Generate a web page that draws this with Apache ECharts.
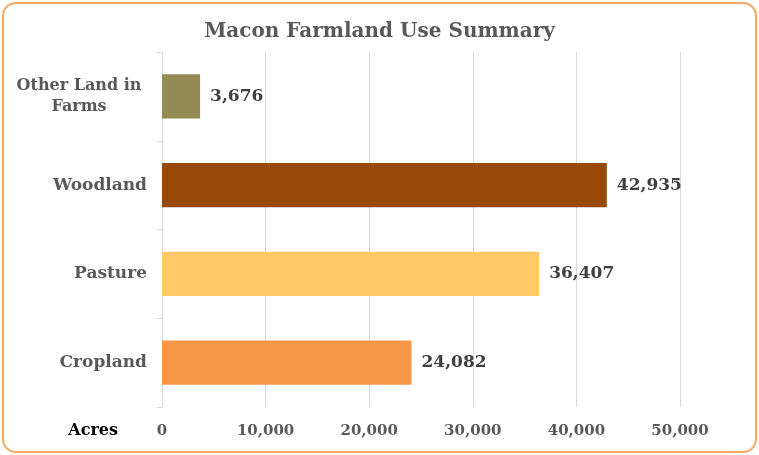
<!DOCTYPE html>
<html>
<head>
<meta charset="utf-8">
<script src="https://cdn.jsdelivr.net/npm/echarts@6/dist/echarts.min.js"></script>
<style>
  html, body { margin: 0; padding: 0; background: #fff; }
  #wrap { position: absolute; left: 2px; top: 2px; width: 751px; height: 447px; border: 2px solid #f9a866; border-radius: 14px; }
  #chart { position: absolute; left: 0; top: 0; width: 759px; height: 455px; }
</style>
</head>
<body>
<div id="wrap"></div>
<div id="chart"></div>
<script>
  const categories = ['Cropland', 'Pasture', 'Woodland', 'Other Land in\nFarms']
  const acres = [24082, 36407, 42935, 3676]
  const barColors = ['#f79646', '#ffc966', '#984807', '#948a54']
  const tickValues = [0, 10000, 20000, 30000, 40000, 50000]

  const serif = '"DejaVu Serif", "Liberation Serif", serif'
  const fmt = v => v.toLocaleString('en-US')

  let chart = echarts.init(document.getElementById('chart'))

  const option = {
    title: {
      text: 'Macon Farmland Use Summary',
      left: 'center',
      top: 17,
      textStyle: {
        fontFamily: serif,
        fontWeight: 'bold',
        fontSize: 20,
        color: '#595959'
      }
    },
    grid: {
      left: 162,
      right: 79,
      top: 52,
      bottom: 48
    },
    xAxis: {
      type: 'value',
      min: tickValues[0],
      max: tickValues[tickValues.length - 1],
      interval: 10000,
      name: 'Acres',
      nameLocation: 'start',
      nameGap: 44,
      nameTextStyle: {
        fontFamily: serif,
        fontWeight: 'bold',
        fontSize: 16,
        color: '#000',
        verticalAlign: 'top',
        padding: [16, 0, 0, 0]
      },
      axisLine: { show: false },
      axisTick: { show: false },
      axisLabel: {
        margin: 17,
        fontFamily: serif,
        fontWeight: 'bold',
        fontSize: 15,
        color: '#595959',
        formatter: v => fmt(v)
      },
      splitLine: {
        show: true,
        lineStyle: { color: '#d9d9d9', width: 1 }
      }
    },
    yAxis: {
      type: 'category',
      data: categories,
      axisLine: { show: true, lineStyle: { color: '#d9d9d9' } },
      axisTick: { show: true, length: 5, lineStyle: { color: '#d9d9d9' } },
      axisLabel: {
        margin: 15,
        fontFamily: serif,
        fontWeight: 'bold',
        fontSize: 17,
        lineHeight: 21,
        color: '#595959',
        formatter: v => {
          if (v.indexOf('\n') < 0) return v
          return v.split('\n').map(s => '{c|' + s + '}').join('\n')
        },
        rich: {
          c: {
            width: 136,
            align: 'center',
            fontFamily: serif,
            fontWeight: 'bold',
            fontSize: 16,
            lineHeight: 21,
            color: '#595959'
          }
        }
      }
    },
    series: [
      {
        type: 'bar',
        data: acres.map((v, i) => ({ value: v, itemStyle: { color: barColors[i] } })),
        barWidth: '50%',
        label: {
          show: true,
          position: 'right',
          distance: 10,
          fontFamily: serif,
          fontWeight: 'bold',
          fontSize: 17,
          color: '#404040',
          formatter: p => fmt(p.value)
        }
      }
    ]
  }

  chart.setOption(option)
  window.onresize = () => {
    chart.resize()
  }
</script>
</body>
</html>
